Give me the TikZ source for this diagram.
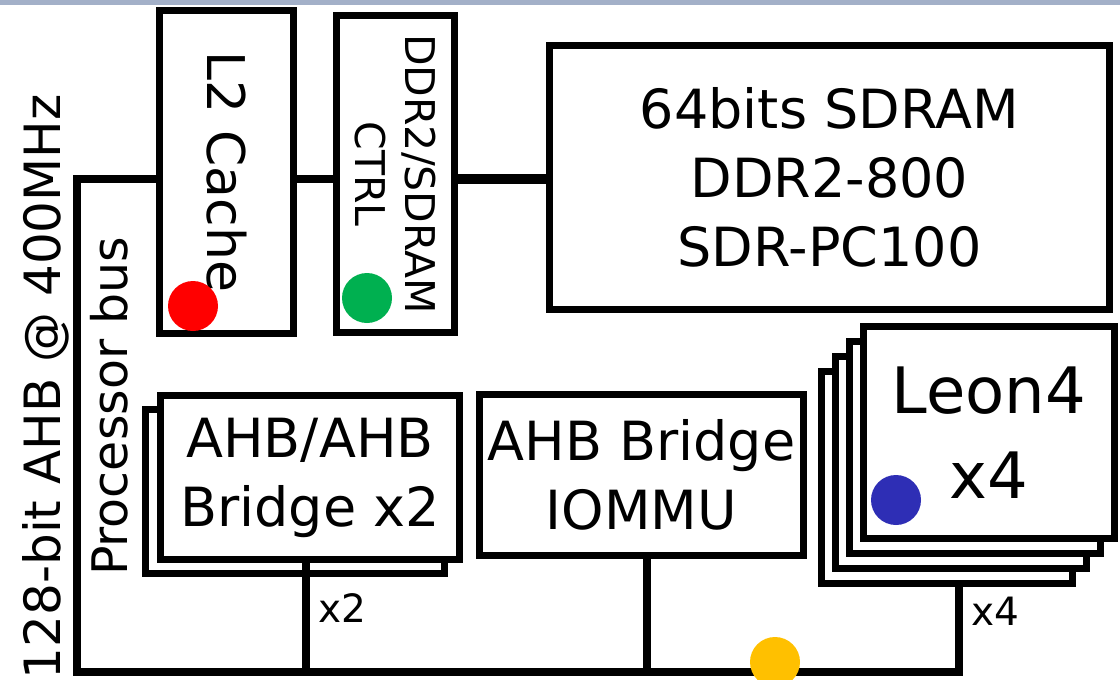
\documentclass[tikz,border=0pt]{standalone}
\usepackage{fontspec}
\setmainfont{DejaVu Sans}
\definecolor{dotred}{HTML}{FF0000}
\definecolor{dotgreen}{HTML}{00B050}
\definecolor{dotblue}{HTML}{2E2EB5}
\definecolor{dotyellow}{HTML}{FFC000}
\definecolor{band}{HTML}{A3B0C8}
\tikzset{blk/.style={draw,line width=7pt,fill=white,inner sep=0pt,align=center,
  font=\fontsize{54}{69}\selectfont},bus/.style={line width=8pt},
  dot/.style={circle,inner sep=0pt,minimum size=50pt},tag/.style={inner sep=0pt,font=\fontsize{39}{39}\selectfont}}

\begin{document}
\begin{tikzpicture}[x=1pt,y=-1pt]
\clip (0,0) rectangle (1120,680);
\fill[band] (0,0) rectangle (1120,5);
% memory side
\node[blk,rotate=-90,minimum width=323pt,minimum height=134pt,font=\fontsize{52}{62}\selectfont] (l2) at (226.5,172) {L2 Cache};
\node[blk,rotate=-90,minimum width=317pt,minimum height=118pt,font=\fontsize{41}{50}\selectfont] (ddr) at (395.5,174) {DDR2/SDRAM\\CTRL};
\node[blk,minimum width=560pt,minimum height=264pt] (sdram) at (829.5,177.5) {64bits SDRAM\\DDR2-800\\SDR-PC100};
% bridges
\node[blk,minimum width=299pt,minimum height=164pt] (ahbbk) at (295,491.5) {};
\node[blk,minimum width=299pt,minimum height=164pt] (ahb) at (310,477.5) {AHB/AHB\\Bridge x2};
\node[blk,minimum width=324pt,minimum height=161pt] (iommu) at (641.5,475) {AHB Bridge\\IOMMU};
% processors, stacked
\coordinate (leonc) at (989,432.5);
\foreach \k in {3,2,1}
  \node[blk,minimum width=251pt,minimum height=212pt] (leon\k) at ([shift={(-14*\k,15*\k)}]leonc) {};
\node[blk,minimum width=251pt,minimum height=212pt,font=\fontsize{64}{85}\selectfont] (leon) at (leonc) {Leon4\\x4};
% bus
\coordinate (bustl) at (77,179);
\coordinate (busbl) at (77,672);
\draw[bus] (l2.south |- bustl) -- (bustl) -- (busbl) -| ([xshift=12pt]leon3.south);
\draw[bus] (l2.north |- bustl) -- (ddr.south |- bustl);
\draw[bus,line width=10pt] (ddr.north |- bustl) -- (sdram.west |- bustl);
\draw[bus] ([xshift=-4pt]ahb.south) -- ([xshift=-4pt]ahb.south |- busbl);
\draw[bus] ([xshift=5.5pt]iommu.south) -- ([xshift=5.5pt]iommu.south |- busbl);
\node[rotate=90,anchor=base east,inner sep=0pt,font=\fontsize{50}{50}\selectfont] (busspeed) at (60,94) {128-bit AHB @ 400MHz};
\node[rotate=90,anchor=base west,inner sep=0pt,font=\fontsize{49}{49}\selectfont] (busname) at (127,576) {Processor bus};
\node[tag] (cnt2) at (342,608) {x2};
\node[tag] (cnt4) at (995,611) {x4};
% markers
\node[dot,fill=dotred] (l2dot) at (193,306) {};
\node[dot,fill=dotgreen] (ddrdot) at (367,298) {};
\node[dot,fill=dotblue] (leondot) at (896,500) {};
\node[dot,fill=dotyellow] (busdot) at (775,662) {};
\end{tikzpicture}
\end{document}
